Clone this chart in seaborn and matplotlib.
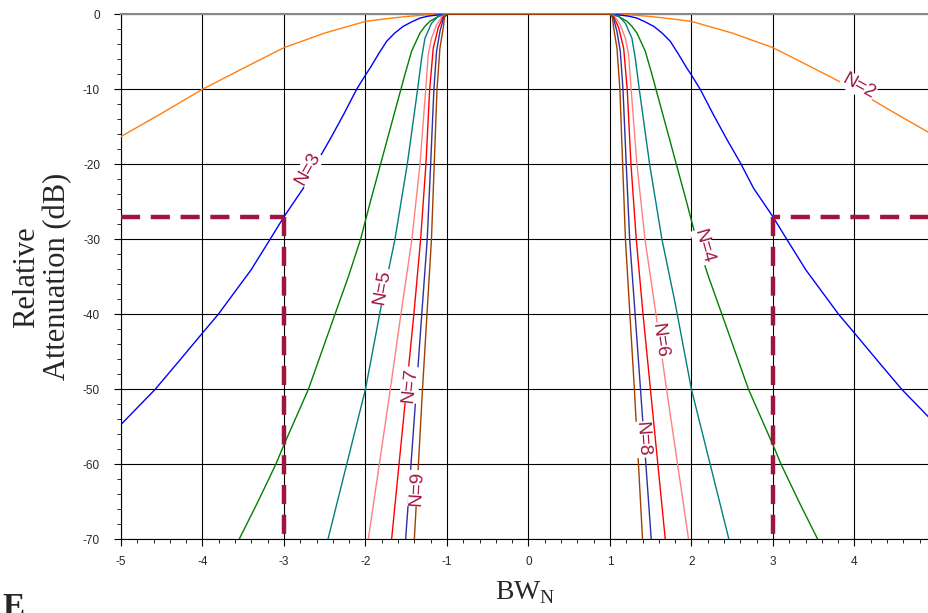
import numpy as np
import pandas as pd
import seaborn as sns
import matplotlib.pyplot as plt
from matplotlib.ticker import MultipleLocator

# |BW_N| values (curves are mirrored about 0)
n2_x = [1.0, 1.25, 1.5, 1.75, 2.0, 2.5, 3.0, 3.5, 4.0, 4.5, 5.0]
n2_db = [0, -0.08, -0.3, -0.6, -0.95, -2.5, -4.45, -7.2, -10, -13.2, -16.3]

n3_x = [1.0, 1.12, 1.23, 1.33, 1.43, 1.536, 1.64, 1.74, 1.84, 1.945, 2.0, 2.108, 2.27, 2.436,
        2.6, 2.763, 3.0, 3.17, 3.405, 3.806, 4.0, 4.3, 4.58, 5.0]
n3_db = [0, -0.1, -0.25, -0.5, -1.0, -1.6, -2.5, -3.6, -5.3, -7.2, -8.1, -10, -13.4, -16.7,
         -19.8, -23.2, -27, -30, -34.1, -40, -42.5, -46.4, -50, -54.7]

n4_x = [1.0, 1.1, 1.209, 1.27, 1.331, 1.433, 1.515, 1.565, 1.69, 1.815, 1.94, 2.06, 2.21,
        2.374, 2.70, 3.0, 3.10, 3.32, 3.55]
n4_db = [0, -0.25, -0.93, -1.6, -2.5, -4.9, -8.0, -10, -15, -20, -25, -30, -35,
         -40, -50, -57.4, -60, -65, -70]

n5_x = [1.0, 1.06, 1.11, 1.19, 1.27, 1.31, 1.36, 1.487, 1.638, 1.80, 2.0, 2.23, 2.46]
n5_db = [0, -0.08, -0.3, -1.2, -3.2, -5.8, -10, -20, -30, -38.5, -50, -60, -70]

n6_x = [1.0, 1.06, 1.127, 1.19, 1.23, 1.26, 1.331, 1.43, 1.565, 1.695, 1.83, 1.965]
n6_db = [0, -0.3, -1.4, -3.2, -5.4, -10, -20, -30, -40, -50, -60, -70]

n7_x = [1.0, 1.05, 1.107, 1.168, 1.212, 1.258, 1.323, 1.406, 1.497, 1.588, 1.679]
n7_db = [0, -0.4, -1.8, -4.5, -10, -20, -30, -40, -50, -60, -70]

n8_x = [1.0, 1.04, 1.086, 1.127, 1.16, 1.20, 1.242, 1.309, 1.375, 1.441, 1.507]
n8_db = [0, -0.4, -2.3, -4.9, -10, -20, -30, -40, -50, -60, -70]

n9_x = [1.0, 1.03, 1.045, 1.086, 1.122, 1.156, 1.19, 1.245, 1.30, 1.35, 1.40]
n9_db = [0, -0.4, -1.8, -4.5, -10, -20, -30, -40, -50, -60, -70]

orders = [2, 3, 4, 5, 6, 7, 8, 9]
curve_x = [n2_x, n3_x, n4_x, n5_x, n6_x, n7_x, n8_x, n9_x]
curve_db = [n2_db, n3_db, n4_db, n5_db, n6_db, n7_db, n8_db, n9_db]
colors = ["#FF7F0E", "#0000FF", "#008000", "#008080", "#FF8080", "#FF0000", "#3030A0", "#A04000"]

# label positions (BW_N, dB) and text angle
label_x = [4.05, -2.70, 2.15, -1.79, 1.605, -1.454, 1.401, -1.364]
label_y = [-9.6, -20.6, -31.0, -36.3, -43.5, -49.4, -56.7, -63.2]
label_rot = [-29, 61, -74, 80, -82, 84, -86, 87]

# dashed marker at BW_N = 3 for N=3
mark_bw = 3.0
mark_db = -27.0

rows = []
for n, xs, ys in zip(orders, curve_x, curve_db):
    xs = np.asarray(xs)
    ys = np.asarray(ys)
    full_x = np.concatenate([-xs[::-1], xs])
    full_y = np.concatenate([ys[::-1], ys])
    for a, b in zip(full_x, full_y):
        rows.append({"bw": a, "db": b, "N": f"N={n}"})
df = pd.DataFrame(rows)

sns.set_theme(style="white")
plt.rcParams["font.family"] = ["Liberation Sans", "DejaVu Sans"]
plt.rcParams["axes.unicode_minus"] = False
plt.rcParams["mathtext.fontset"] = "custom"
plt.rcParams["mathtext.rm"] = "Liberation Serif"

fig = plt.figure(figsize=(9.29, 6.13), dpi=100)
ax = fig.add_axes([0.1302, 0.1202, 0.8698, 0.8565])

sns.lineplot(data=df, x="bw", y="db", hue="N", palette=colors, sort=False,
             estimator=None, units="N", legend=False, linewidth=1.0, ax=ax, zorder=3)

dark_red = "#A0153E"
for side in (-1, 1):
    edge = -5 if side < 0 else 4.915
    ax.plot([edge, side * mark_bw], [mark_db, mark_db], color=dark_red, lw=3.2,
            dashes=(4.3, 2.4), zorder=4)
    ax.plot([side * mark_bw, side * mark_bw], [mark_db, -70], color=dark_red, lw=3.2,
            dashes=(4.3, 2.4), zorder=4)

for n, lx, ly, rot in zip(orders, label_x, label_y, label_rot):
    ax.text(lx, ly, f"N={n}", color=dark_red, fontsize=13.5, rotation=rot,
            rotation_mode="anchor", ha="center", va="center", zorder=5,
            bbox=dict(facecolor="white", edgecolor="none", pad=0.5))

ax.set_xlim(-5, 4.915)
ax.set_ylim(-70, 0)
ax.xaxis.set_major_locator(MultipleLocator(1))
ax.xaxis.set_minor_locator(MultipleLocator(0.2))
ax.yaxis.set_major_locator(MultipleLocator(10))
ax.yaxis.set_minor_locator(MultipleLocator(2))
ax.grid(which="major", color="black", linewidth=0.8, zorder=1)
ax.set_axisbelow(True)
ax.tick_params(axis="y", which="major", pad=10)
ax.tick_params(axis="x", which="major", pad=7)
ax.tick_params(which="major", direction="out", length=5, width=0.8, color="black",
               labelsize=8.5, bottom=True, left=True)
ax.tick_params(which="minor", direction="out", length=3, width=0.6, color="black",
               bottom=True, left=True)

for s in ["left", "bottom"]:
    ax.spines[s].set_color("black")
    ax.spines[s].set_linewidth(0.8)
ax.spines["top"].set_color("#888888")
ax.spines["top"].set_linewidth(1.5)
ax.spines["right"].set_visible(False)

ax.set_ylabel("Relative\nAttenuation (dB)", family="Liberation Serif", fontsize=22,
              labelpad=8, linespacing=1.05)
ax.set_xlabel(r"BW$_\mathregular{N}$", family="Liberation Serif", fontsize=20, labelpad=8)

fig.text(0.003, 0.035, "E", family="Liberation Serif", fontweight="bold", fontsize=24,
         va="top", ha="left")

fig.savefig("out.png", dpi=100)
